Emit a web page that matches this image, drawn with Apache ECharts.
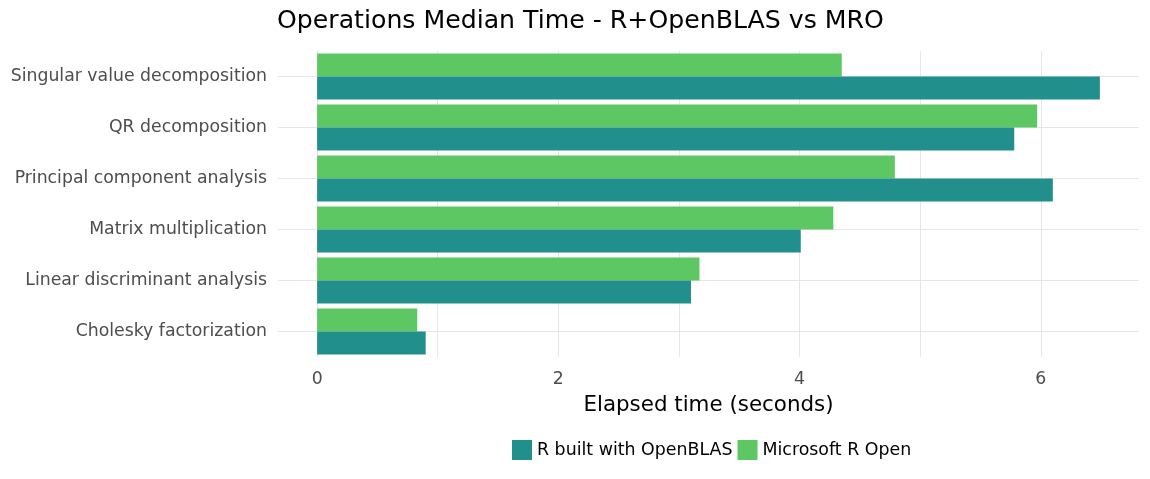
<!DOCTYPE html>
<html>
<head>
<meta charset="utf-8">
<script src="https://cdn.jsdelivr.net/npm/echarts@6/dist/echarts.min.js"></script>
<style>
  html, body { margin: 0; padding: 0; background: #fff; }
  #chart { width: 1150px; height: 479px; }
</style>
</head>
<body>
<div id="chart"></div>
<script>
// 类别（自下而上）
const operations = [
  'Cholesky factorization',
  'Linear discriminant analysis',
  'Matrix multiplication',
  'Principal component analysis',
  'QR decomposition',
  'Singular value decomposition'
];
// 中位耗时（秒）
const openblasTimes = [0.90, 3.10, 4.01, 6.10, 5.78, 6.49];
const mroTimes = [0.83, 3.17, 4.28, 4.79, 5.97, 4.35];
const gridValues = [0, 1, 2, 3, 4, 5, 6];
const tickLabels = [0, 2, 4, 6];

const FONT = '"DejaVu Sans", sans-serif';
const chart = echarts.init(document.getElementById('chart'), null, { renderer: 'canvas' });

const option = {
  backgroundColor: '#ffffff',
  animation: false,
  textStyle: { fontFamily: FONT },
  title: {
    text: 'Operations Median Time - R+OpenBLAS vs MRO',
    left: 272,
    top: 4,
    textStyle: { fontFamily: FONT, fontSize: 25.2, fontWeight: 'normal', color: '#000' }
  },
  legend: {
    left: 507,
    top: 435,
    itemWidth: 20,
    itemHeight: 20,
    itemGap: 5,
    icon: 'rect',
    textStyle: { fontFamily: FONT, fontSize: 17.4, color: '#000' },
    data: ['R built with OpenBLAS', 'Microsoft R Open']
  },
  grid: { left: 278, right: 11, top: 51, height: 306 },
  xAxis: {
    type: 'value',
    min: -0.3245,
    max: 6.8145,
    name: 'Elapsed time (seconds)',
    nameLocation: 'middle',
    nameGap: 38,
    nameTextStyle: { fontFamily: FONT, fontSize: 21.4, color: '#000' },
    axisLine: { show: false },
    axisTick: { show: false, customValues: gridValues },
    axisLabel: { customValues: tickLabels, color: '#4d4d4d', fontFamily: FONT, fontSize: 17.3, margin: 14 },
    splitLine: { show: true, lineStyle: { color: '#e6e6e6', width: 1 } }
  },
  yAxis: {
    type: 'category',
    data: operations,
    axisLine: { show: false },
    axisTick: { show: false },
    axisLabel: { color: '#4d4d4d', fontFamily: FONT, fontSize: 17.3, margin: 11 },
    splitLine: { show: true, alignWithLabel: true, lineStyle: { color: '#e6e6e6', width: 1 } }
  },
  series: [
    {
      name: 'Microsoft R Open',
      type: 'bar',
      data: mroTimes,
      barWidth: 23,
      barGap: '0%',
      itemStyle: { color: '#5dc863' }
    },
    {
      name: 'R built with OpenBLAS',
      type: 'bar',
      data: openblasTimes,
      barWidth: 23,
      barGap: '0%',
      itemStyle: { color: '#21908c' }
    }
  ]
};

chart.setOption(option);
</script>
</body>
</html>
